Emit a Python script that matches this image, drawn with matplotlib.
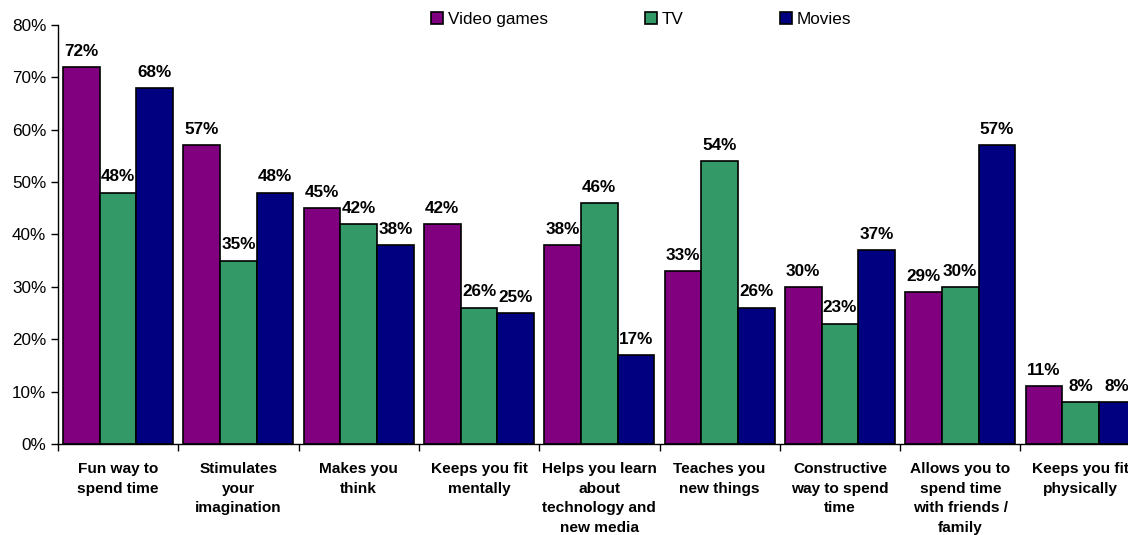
import numpy as np
import matplotlib
matplotlib.use('Agg')
import matplotlib.pyplot as plt
from matplotlib.ticker import FixedLocator, PercentFormatter

plt.rcParams['font.family'] = ['Liberation Sans', 'DejaVu Sans']

categories = ['Fun way to\nspend time', 'Stimulates\nyour\nimagination',
              'Makes you\nthink', 'Keeps you fit\nmentally',
              'Helps you learn\nabout\ntechnology and\nnew media',
              'Teaches you\nnew things', 'Constructive\nway to spend\ntime',
              'Allows you to\nspend time\nwith friends /\nfamily',
              'Keeps you fit\nphysically']
video_games = [72, 57, 45, 42, 38, 33, 30, 29, 11]
tv = [48, 35, 42, 26, 46, 54, 23, 30, 8]
movies = [68, 48, 38, 25, 17, 26, 37, 57, 8]

series = [('Video games', video_games, '#800080'),
          ('TV', tv, '#339966'),
          ('Movies', movies, '#000080')]

fig = plt.figure(figsize=(11.28, 5.35), dpi=100)
ax = fig.add_axes([58 / 1128, 91 / 535, 9 * 120.3 / 1128, 419 / 535])

x = np.arange(len(categories))
w = 0.305
for i, (name, vals, col) in enumerate(series):
    bars = ax.bar(x + (i - 1) * w, vals, w, color=col, edgecolor='black',
                  linewidth=1.2, label=name, zorder=2)
    ax.bar_label(bars, labels=['%d%%' % v for v in vals], padding=6,
                 fontsize=12.3, fontweight='bold', zorder=3)

ax.set_xlim(-0.5, len(categories) - 0.5)
ax.set_ylim(0, 80)
ax.set_yticks(np.arange(0, 81, 10))
ax.yaxis.set_major_formatter(PercentFormatter(decimals=0))
ax.tick_params(axis='y', labelsize=12.3, length=5, direction='out', width=1)

ax.xaxis.set_major_locator(FixedLocator(np.arange(-0.5, len(categories), 1.0)))
ax.xaxis.set_minor_locator(FixedLocator(x))
ax.set_xticklabels([], minor=False)
ax.set_xticklabels(categories, minor=True, fontsize=11.1, fontweight='bold',
                   linespacing=1.5)
ax.tick_params(axis='x', which='major', length=5, width=1, direction='out')
ax.tick_params(axis='x', which='minor', length=0, pad=13)

for s in ['top', 'right']:
    ax.spines[s].set_visible(False)
ax.spines['left'].set_linewidth(1)
ax.spines['bottom'].set_linewidth(1)

fig.legend(loc='center', bbox_to_anchor=(0.5685, 0.963), ncol=3, frameon=False,
           fontsize=12.3, handlelength=0.7, handleheight=0.7,
           handletextpad=0.25, columnspacing=5.7)

fig.savefig('out.png', dpi=100)
